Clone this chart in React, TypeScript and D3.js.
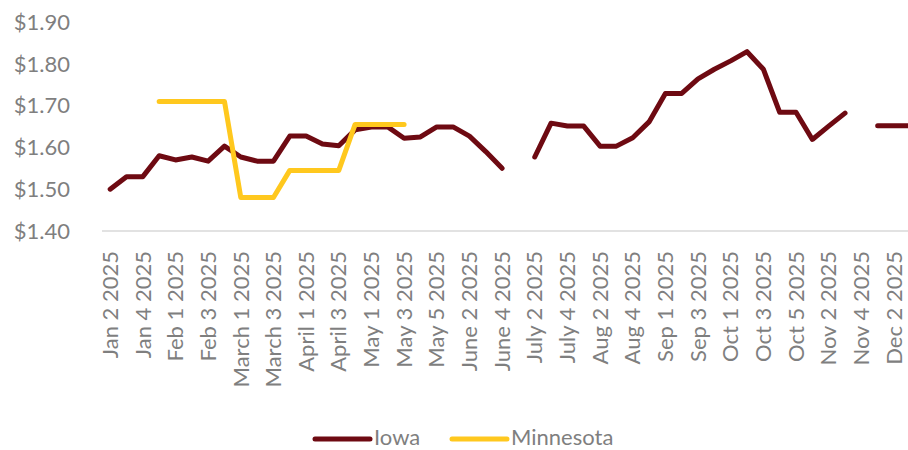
import React, { useEffect, useRef } from "react";
import * as d3 from "d3";

// weekly categories (Jan 2 .. Dec 3), labels shown every other week
const categories: string[] = [
  "Jan 2 2025", "Jan 3 2025", "Jan 4 2025", "Jan 5 2025",
  "Feb 1 2025", "Feb 2 2025", "Feb 3 2025", "Feb 4 2025",
  "March 1 2025", "March 2 2025", "March 3 2025", "March 4 2025",
  "April 1 2025", "April 2 2025", "April 3 2025", "April 4 2025",
  "May 1 2025", "May 2 2025", "May 3 2025", "May 4 2025", "May 5 2025",
  "June 1 2025", "June 2 2025", "June 3 2025", "June 4 2025",
  "July 1 2025", "July 2 2025", "July 3 2025", "July 4 2025",
  "Aug 1 2025", "Aug 2 2025", "Aug 3 2025", "Aug 4 2025", "Aug 5 2025",
  "Sep 1 2025", "Sep 2 2025", "Sep 3 2025", "Sep 4 2025",
  "Oct 1 2025", "Oct 2 2025", "Oct 3 2025", "Oct 4 2025", "Oct 5 2025",
  "Nov 1 2025", "Nov 2 2025", "Nov 3 2025", "Nov 4 2025",
  "Dec 1 2025", "Dec 2 2025", "Dec 3 2025",
];

const iowa: (number | null)[] = [
  1.5, 1.53, 1.53, 1.58, 1.57, 1.577, 1.567, 1.603, 1.577, 1.567,
  1.567, 1.627, 1.627, 1.608, 1.604, 1.642, 1.649, 1.649, 1.622, 1.625,
  1.649, 1.649, 1.627, 1.59, 1.55, null, 1.577, 1.658, 1.651, 1.651,
  1.603, 1.603, 1.623, 1.661, 1.729, 1.729, 1.764, 1.787, 1.807, 1.829,
  1.787, 1.684, 1.684, 1.619, 1.651, 1.682, null, 1.652, 1.652, 1.652,
];

const minnesota: (number | null)[] = [
  null, null, null, 1.71, 1.71, 1.71, 1.71, 1.71, 1.48, 1.48,
  1.48, 1.545, 1.545, 1.545, 1.545, 1.655, 1.655, 1.655, 1.655, null,
  null, null, null, null, null, null, null, null, null, null,
  null, null, null, null, null, null, null, null, null, null,
  null, null, null, null, null, null, null, null, null, null,
];

const yTicks: number[] = [1.4, 1.5, 1.6, 1.7, 1.8, 1.9];

const seriesNames = ["Iowa", "Minnesota"];
const seriesColors = ["#6E0A12", "#FFC81E"];

const App: React.FC = () => {
  const svgRef = useRef<SVGSVGElement | null>(null);

  useEffect(() => {
    if (!svgRef.current) return;
    const width = 908;
    const height = 450;
    const font = "Lato, 'Open Sans', sans-serif";
    const textColor = "#7F7F7F";

    const svg = d3.select(svgRef.current);
    svg.selectAll("*").remove();
    svg.attr("width", width).attr("height", height);

    const left = 102;
    const band = 16.33;
    const x = d3
      .scaleBand<string>()
      .domain(categories)
      .range([left, left + band * categories.length]);

    const y = d3.scaleLinear().domain([1.4, 1.9]).range([231, 22]);

    // y tick labels
    svg
      .append("g")
      .selectAll("text")
      .data(yTicks)
      .enter()
      .append("text")
      .attr("x", 70)
      .attr("y", (d) => y(d))
      .attr("dy", "0.35em")
      .attr("text-anchor", "end")
      .style("font-family", font)
      .style("font-size", "22px")
      .style("fill", textColor)
      .text((d) => d3.format("$.2f")(d));

    // x axis baseline
    svg
      .append("line")
      .attr("x1", left)
      .attr("x2", width)
      .attr("y1", y(1.4))
      .attr("y2", y(1.4))
      .attr("stroke", "#D9D9D9")
      .attr("stroke-width", 1.5);

    // x labels, every other category
    svg
      .append("g")
      .selectAll("text")
      .data(categories.filter((_, i) => i % 2 === 0))
      .enter()
      .append("text")
      .attr("transform", (d) => `translate(${x(d)! + band / 2},251) rotate(-90)`)
      .attr("dy", "0.35em")
      .attr("text-anchor", "end")
      .style("font-family", font)
      .style("font-size", "22px")
      .style("fill", textColor)
      .text((d) => d);

    const line = d3
      .line<number | null>()
      .defined((d) => d !== null)
      .x((_, i) => x(categories[i])! + band / 2)
      .y((d) => y(d as number));

    [iowa, minnesota].forEach((s, k) => {
      svg
        .append("path")
        .attr("d", line(s))
        .attr("fill", "none")
        .attr("stroke", seriesColors[k])
        .attr("stroke-width", 5)
        .attr("stroke-linejoin", "round")
        .attr("stroke-linecap", "round");
    });

    // legend
    const legendX = [315, 452];
    const legendY = 437;
    seriesNames.forEach((name, k) => {
      svg
        .append("line")
        .attr("x1", legendX[k])
        .attr("x2", legendX[k] + 55)
        .attr("y1", legendY + 2)
        .attr("y2", legendY + 2)
        .attr("stroke", seriesColors[k])
        .attr("stroke-width", 5)
        .attr("stroke-linecap", "round");
      svg
        .append("text")
        .attr("x", legendX[k] + 59)
        .attr("y", legendY)
        .attr("dy", "0.35em")
        .style("font-family", font)
        .style("font-size", "22px")
        .style("fill", textColor)
        .text(name);
    });
  }, []);

  return (
    <svg
      ref={svgRef}
      style={{ position: "absolute", left: 0, top: 0, display: "block", background: "#fff" }}
    ></svg>
  );
};

export default App;
